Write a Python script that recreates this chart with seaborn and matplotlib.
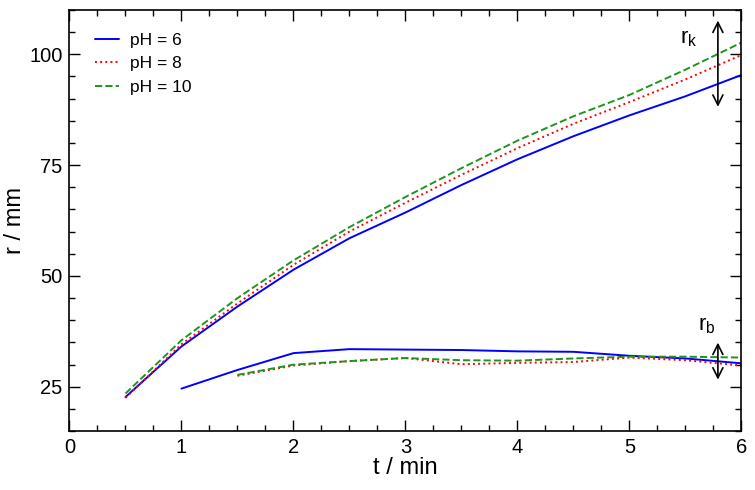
import matplotlib
matplotlib.use("Agg")
import matplotlib.pyplot as plt
from matplotlib.ticker import MultipleLocator
import seaborn as sns
import pandas as pd

# time points (min)
t_k = [0.5, 1.0, 1.5, 2.0, 2.5, 3.0, 3.5, 4.0, 4.5, 5.0, 5.5, 6.0]
rk_ph6 = [22.7, 34.1, 43.1, 51.4, 58.5, 64.3, 70.5, 76.3, 81.5, 86.2, 90.5, 95.3]
rk_ph8 = [22.5, 34.6, 43.8, 52.5, 60.0, 66.5, 72.8, 78.8, 84.3, 89.2, 94.3, 99.8]
rk_ph10 = [23.5, 35.5, 45.0, 53.5, 61.0, 67.8, 74.3, 80.5, 86.0, 90.8, 96.5, 102.6]

t_b6 = [1.0, 1.5, 2.0, 2.5, 3.0, 3.5, 4.0, 4.5, 5.0, 5.5, 6.0]
rb_ph6 = [24.6, 28.8, 32.6, 33.5, 33.4, 33.3, 33.0, 32.9, 32.0, 31.4, 30.3]
t_b = [1.5, 2.0, 2.5, 3.0, 3.5, 4.0, 4.5, 5.0, 5.5, 6.0]
rb_ph8 = [27.5, 29.8, 30.8, 31.5, 30.1, 30.4, 30.6, 31.6, 31.0, 29.8]
rb_ph10 = [27.7, 30.0, 30.8, 31.5, 31.0, 30.9, 31.4, 31.8, 31.8, 31.6]

labels = ["pH = 6", "pH = 8", "pH = 10"]
colors = ["#0000ff", "#ff0000", "#1e961e"]
dashes = ["-", ":", "--"]


def main():
    sns.set_style("ticks")
    plt.rcParams["font.family"] = ["Liberation Sans", "DejaVu Sans"]
    plt.rcParams["text.color"] = "black"
    plt.rcParams["axes.labelcolor"] = "black"
    plt.rcParams["axes.edgecolor"] = "black"
    plt.rcParams["xtick.color"] = "black"
    plt.rcParams["ytick.color"] = "black"

    fig, ax = plt.subplots(figsize=(7.55, 4.9), dpi=100)

    upper = [rk_ph6, rk_ph8, rk_ph10]
    lower = [(t_b6, rb_ph6), (t_b, rb_ph8), (t_b, rb_ph10)]
    for i in range(3):
        df_k = pd.DataFrame({"t": t_k, "r": upper[i]})
        sns.lineplot(data=df_k, x="t", y="r", ax=ax, color=colors[i],
                     linestyle=dashes[i], lw=1.4, label=labels[i])
        df_b = pd.DataFrame({"t": lower[i][0], "r": lower[i][1]})
        sns.lineplot(data=df_b, x="t", y="r", ax=ax, color=colors[i],
                     linestyle=dashes[i], lw=1.4)

    # double arrows for r_k and r_b
    ax.annotate("", xy=(5.79, 108.2), xytext=(5.79, 87.5),
                arrowprops=dict(arrowstyle="<->", color="black", lw=1.2,
                                mutation_scale=18))
    ax.annotate("", xy=(5.79, 35.6), xytext=(5.79, 26.0),
                arrowprops=dict(arrowstyle="<->", color="black", lw=1.2,
                                mutation_scale=18))
    ax.text(5.53, 103.6, "r$_\\mathregular{k}$", fontsize=16, ha="center", va="center")
    ax.text(5.69, 38.8, "r$_\\mathregular{b}$", fontsize=16, ha="center", va="center")

    ax.set_xlim(0, 6)
    ax.set_ylim(15, 110)
    ax.xaxis.set_major_locator(MultipleLocator(1))
    ax.xaxis.set_minor_locator(MultipleLocator(0.25))
    ax.set_yticks([25, 50, 75, 100])
    ax.yaxis.set_minor_locator(MultipleLocator(5))
    ax.tick_params(which="both", direction="in", top=True, right=True,
                   labelsize=14.5, width=1.0)
    ax.tick_params(which="major", length=8, pad=5)
    ax.tick_params(which="minor", length=4)
    for s in ax.spines.values():
        s.set_linewidth(1.2)

    ax.set_xlabel("t / min", fontsize=17, labelpad=0)
    ax.set_ylabel("r / mm", fontsize=17, labelpad=2)

    ax.legend(loc="upper left", frameon=False, fontsize=12.5,
              handlelength=1.4, handletextpad=0.6, labelspacing=0.5,
              borderaxespad=0.3, bbox_to_anchor=(0.02, 0.975))

    fig.subplots_adjust(left=0.092, right=0.982, top=0.98, bottom=0.12)
    fig.savefig("out.png", dpi=100)


if __name__ == "__main__":
    main()
